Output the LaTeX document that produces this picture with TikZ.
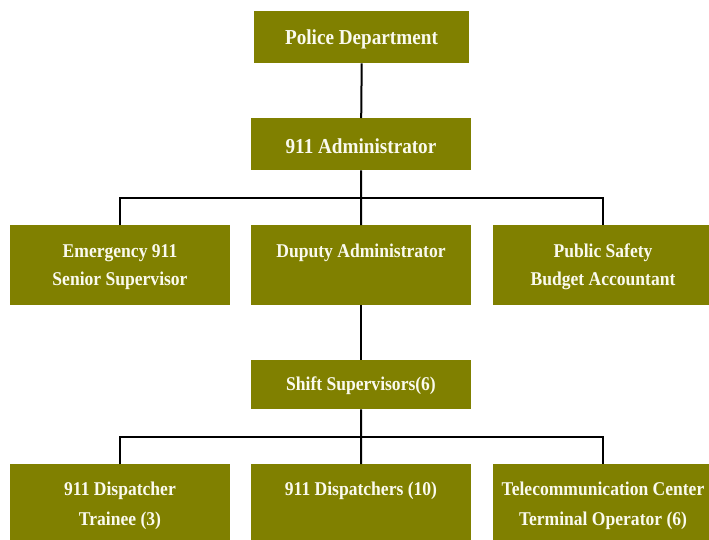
\documentclass[tikz,border=0pt]{standalone}
\usepackage{fontspec}
\setmainfont{Liberation Serif}[FakeStretch=0.9]
\definecolor{boxol}{RGB}{128,128,0}
\definecolor{txtc}{RGB}{250,250,238}
\begin{document}
\begin{tikzpicture}[x=1pt,y=-1pt,
  box/.style={fill=boxol, draw=none, minimum width=220pt, inner sep=0pt, anchor=north west},
  txt/.style={text=txtc, font=\bfseries\fontsize{19.5}{28}\selectfont, align=center, inner sep=0pt},
  bigtxt/.style={text=txtc, font=\bfseries\fontsize{21.3}{28}\selectfont, align=center, inner sep=0pt},
  conn/.style={draw=black, line width=2pt}]
\clip (0,0) rectangle (709,539);
\useasboundingbox (0,0) rectangle (709,539);
\fill[white] (0,0) rectangle (709,539);
% level 1-2
\node[box, minimum width=215pt, minimum height=52pt] (pd) at (254,11) {};
\node[bigtxt] (pdt) at (361.5,39) {Police Department};
\node[box, minimum height=52pt] (adm) at (251,118) {};
\node[bigtxt] (admt) at (361,146) {911 Administrator};
% level 3
\node[box, minimum height=80pt] (es) at (10,225) {};
\node[txt] (est) at (120,267) {Emergency 911\\Senior Supervisor};
\node[box, minimum height=80pt] (da) at (251,225) {};
\node[txt] (dat) at (361,253) {Duputy Administrator};
\node[box, minimum height=80pt] (pb) at (493,225) {};
\node[txt] (pbt) at (603,267) {Public Safety\\Budget Accountant};
% level 4
\node[box, minimum height=49pt] (ss) at (251,360) {};
\node[txt] (sst) at (361,386) {Shift Supervisors(6)};
% level 5
\node[box, minimum height=82pt] (dt) at (10,464) {};
\node[txt, font=\bfseries\fontsize{19.5}{29.5}\selectfont] (dtt) at (120,506) {911 Dispatcher\\Trainee (3)};
\node[box, minimum height=82pt] (dd) at (251,464) {};
\node[txt] (ddt) at (361,491) {911 Dispatchers (10)};
\node[box, minimum height=82pt] (tc) at (493,464) {};
\node[txt, font=\bfseries\fontsize{19.5}{29.5}\selectfont] (tct) at (603,506) {Telecommunication Center\\Terminal Operator (6)};
% connectors
\coordinate (j1) at (361,198);
\coordinate (j2) at (361,437);
\draw[conn] (pd.south) -- (adm.north);
\draw[conn] (adm.south) -- (j1) -- (da.north);
\draw[conn] (es.north) |- (j1) -| (pb.north);
\draw[conn] (da.south) -- (ss.north);
\draw[conn] (ss.south) -- (j2) -- (dd.north);
\draw[conn] (dt.north) |- (j2) -| (tc.north);
\end{tikzpicture}
\end{document}
